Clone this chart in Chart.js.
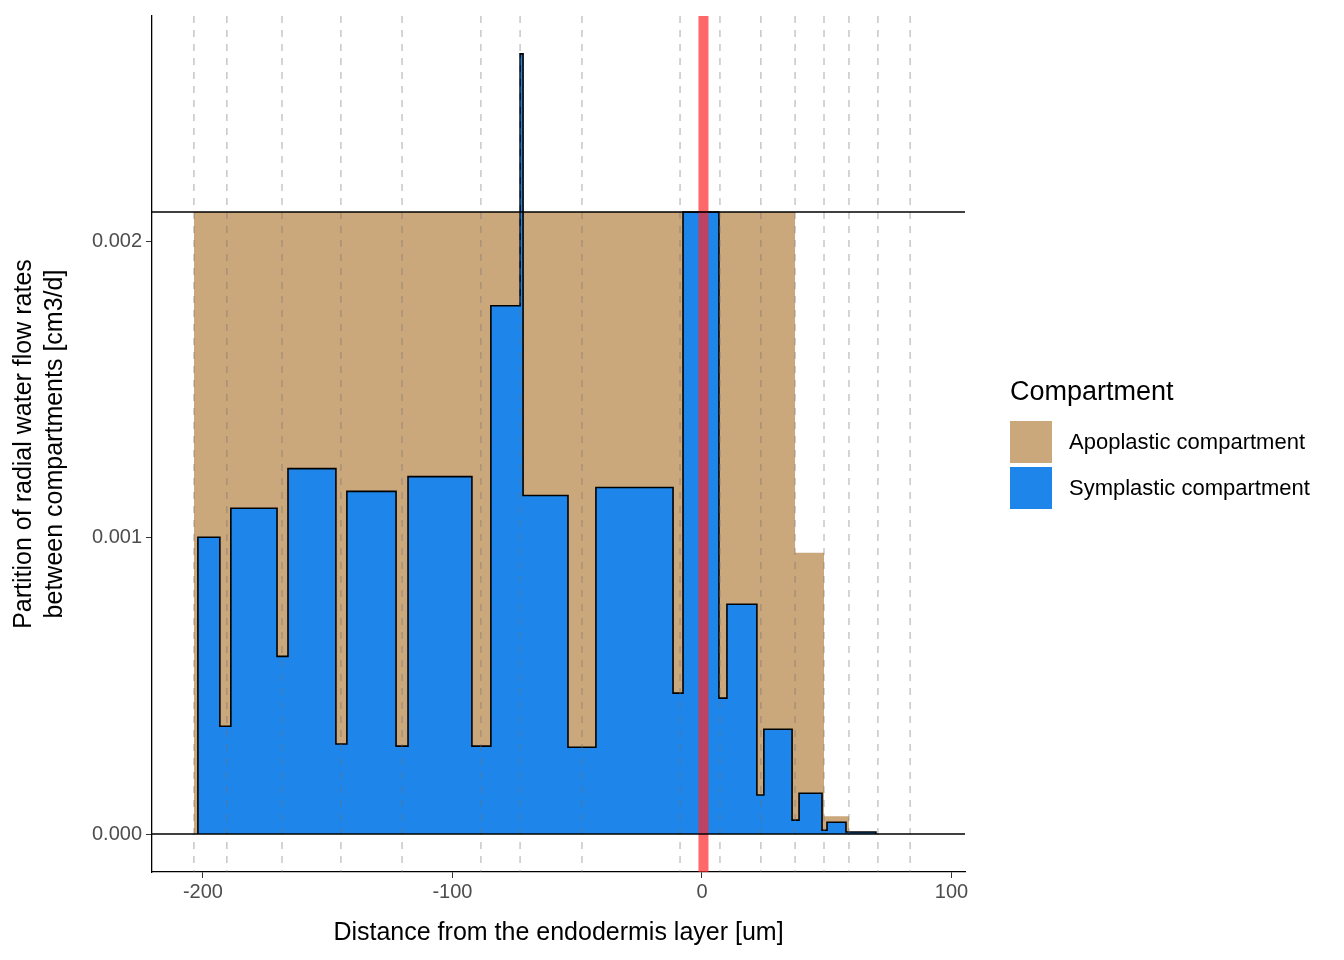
<!DOCTYPE html>
<html>
<head>
<meta charset="utf-8">
<script src="https://cdn.jsdelivr.net/npm/chart.js@4/dist/chart.umd.min.js"></script>
<style>
  body { margin: 0; background: #fff; font-family: Arial, "Liberation Sans", sans-serif; }
  #wrap { position: relative; width: 1344px; height: 960px; }
  #legend { position: absolute; left: 1010px; top: 376px; }
  #legend .title { font-size: 27px; color: #000; margin-bottom: 12px; }
  #legend .row { display: flex; align-items: center; height: 46px; font-size: 22px; }
  #legend .sw { width: 42px; height: 42px; margin-right: 17px; }
</style>
</head>
<body>
<div id="wrap">
  <canvas id="chart" width="1344" height="960"></canvas>
  <div id="legend">
    <div class="title">Compartment</div>
    <div class="row"><div class="sw" style="background:#CBA87C"></div>Apoplastic compartment</div>
    <div class="row"><div class="sw" style="background:#1E86EB"></div>Symplastic compartment</div>
  </div>
</div>
<script>
// step edges (left edge of each step) and values
const apoEdges = [-203.6, 37.3, 48.9, 58.9, 69.7];
const apoValues = [0.0021, 0.00095, 0.00006, 0.000004, 0];

const symEdges = [-202.0, -193.2, -188.8, -170.3, -165.9, -146.7, -142.3, -122.6, -117.8, -92.2,
  -84.6, -72.9, -71.7, -53.7, -42.5, -11.6, -7.6, 6.8, 10.0, 22.0,
  24.8, 36.1, 38.9, 48.1, 50.1, 57.7, 69.7];
const symValues = [0.001002, 0.000364, 0.0011, 0.0006, 0.001234, 0.000304, 0.001157, 0.000297, 0.001207, 0.000297,
  0.001784, 0.002634, 0.001143, 0.000293, 0.00117, 0.000476, 0.0021, 0.000459, 0.000776, 0.000132,
  0.000354, 0.000047, 0.000138, 0.000013, 0.00004, 0.000007, 0];

const cellBoundaries = [-203.6, -190.4, -168.3, -144.7, -120.2, -88.6, -72.9, -48.1, -8.8, 7.2,
  23.6, 37.3, 48.9, 58.9, 70.5, 83.4];
const endodermisX = 0.6;
const hLines = [0, 0.0021];

const xTicks = [-200, -100, 0, 100];
const yTicks = [0, 0.001, 0.002];

// each value holds from its edge to the next edge
function stepPoints(edges, values) {
  const pts = [{ x: edges[0], y: 0 }];
  edges.forEach((e, i) => {
    pts.push({ x: e, y: values[i] });
    if (i + 1 < edges.length) pts.push({ x: edges[i + 1], y: values[i] });
  });
  return pts;
}

const overlay = {
  id: 'overlay',
  afterDatasetsDraw(chart) {
    const { ctx, chartArea: a, scales: { x, y } } = chart;
    ctx.save();
    ctx.beginPath();
    ctx.rect(a.left, a.top, a.right - a.left, a.bottom - a.top);
    ctx.clip();
    // dashed cell boundaries
    ctx.setLineDash([7, 7]);
    ctx.lineWidth = 1.3;
    ctx.strokeStyle = 'rgba(110,110,110,0.45)';
    cellBoundaries.forEach(v => {
      const px = x.getPixelForValue(v);
      ctx.beginPath(); ctx.moveTo(px, a.top); ctx.lineTo(px, a.bottom); ctx.stroke();
    });
    ctx.setLineDash([]);
    // endodermis line
    ctx.strokeStyle = 'rgba(255,40,40,0.7)';
    ctx.lineWidth = 10;
    const rx = x.getPixelForValue(endodermisX);
    ctx.beginPath(); ctx.moveTo(rx, a.top); ctx.lineTo(rx, a.bottom); ctx.stroke();
    // horizontal reference lines
    ctx.strokeStyle = '#000';
    ctx.lineWidth = 1.5;
    hLines.forEach(v => {
      const py = y.getPixelForValue(v);
      ctx.beginPath(); ctx.moveTo(a.left, py); ctx.lineTo(a.right, py); ctx.stroke();
    });
    ctx.restore();
  }
};

new Chart(document.getElementById('chart').getContext('2d'), {
  type: 'line',
  data: {
    datasets: [
      {
        label: 'Apoplastic compartment',
        data: stepPoints(apoEdges, apoValues),
        fill: 'origin',
        backgroundColor: '#CBA87C',
        borderWidth: 0,
        pointRadius: 0,
        order: 2
      },
      {
        label: 'Symplastic compartment',
        data: stepPoints(symEdges, symValues),
        fill: 'origin',
        backgroundColor: '#1E86EB',
        borderColor: '#000',
        borderWidth: 1.6,
        pointRadius: 0,
        order: 1
      }
    ]
  },
  options: {
    responsive: false,
    animation: false,
    layout: { padding: { left: 8, top: 15, right: 379, bottom: 12 } },
    plugins: { legend: { display: false }, tooltip: { enabled: false } },
    scales: {
      x: {
        type: 'linear',
        min: -220.4, max: 105.4,
        afterBuildTicks: s => { s.ticks = xTicks.map(v => ({ value: v })); },
        afterFit: s => { s.height = 76; },
        grid: { drawOnChartArea: false, drawTicks: true, tickLength: 6, color: '#333' },
        border: { display: true, color: '#000', width: 1.3 },
        ticks: { color: '#4d4d4d', font: { size: 20 }, padding: 2 },
        title: { display: true, text: 'Distance from the endodermis layer [um]', color: '#000', font: { size: 25 }, padding: { top: 0, bottom: 0 } }
      },
      y: {
        min: -0.000128, max: 0.002762,
        afterBuildTicks: s => { s.ticks = yTicks.map(v => ({ value: v })); },
        afterFit: s => { s.width = 144; },
        grid: { drawOnChartArea: false, drawTicks: true, tickLength: 6, color: '#333' },
        border: { display: true, color: '#000', width: 1.3 },
        ticks: { color: '#4d4d4d', font: { size: 20 }, padding: 4, callback: v => v.toFixed(3) },
        title: { display: true, text: ['Partition of radial water flow rates', 'between compartments [cm3/d]'], color: '#000', font: { size: 25, lineHeight: 1.25 }, padding: { top: 0, bottom: 0 } }
      }
    }
  },
  plugins: [overlay]
});
</script>
</body>
</html>
